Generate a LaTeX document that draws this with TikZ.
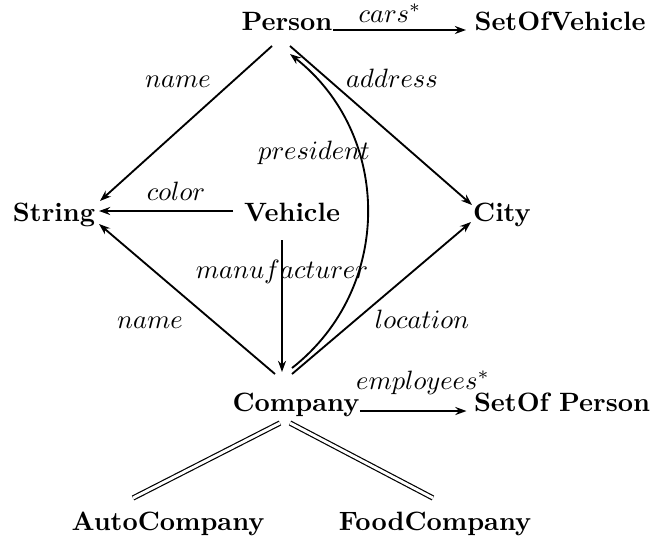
\documentclass[tikz,border=0pt]{standalone}
\usetikzlibrary{arrows.meta,calc}
\begin{document}
\begin{tikzpicture}[x=0.377pt,y=-0.377pt,
  cls/.style={font=\bfseries, inner sep=0pt, anchor=base},
  role/.style={inner sep=0pt, anchor=base},
  link/.style={line width=0.7pt, -{Stealth[length=4.2pt,width=3pt]}},
  isa/.style={double, double distance=1.1pt, line width=0.45pt}]
\useasboundingbox (0,0) rectangle (652,540);

% classes (placed by their baselines)
\node[cls] (person)  at (287,30)  {Person};
\node[cls] (setv)    at (560,30)  {SetOfVehicle};
\node[cls] (string)  at (54,221)  {String};
\node[cls] (vehicle) at (292,221) {Vehicle};
\node[cls] (city)    at (502,221) {City};
\node[cls] (company) at (296,411) {Company};
\node[cls] (setp)    at (562,411) {SetOf Person};
\node[cls] (auto)    at (168,530) {AutoCompany};
\node[cls] (food)    at (435,530) {FoodCompany};

% attribute names
\node[role] (lcars)  at (390,22)  {$cars^*$};
\node[role] (lname)  at (178,87)  {$name$};
\node[role] (laddr)  at (392,87)  {$address$};
\node[role] (lpres)  at (314,159) {$president$};
\node[role] (lcolor) at (176,200) {$color$};
\node[role] (lmanu)  at (282,278) {$manufacturer$};
\node[role] (lname2) at (150,328) {$name$};
\node[role] (lloc)   at (422,328) {$location$};
\node[role] (lemp)   at (423,389) {$employees^*$};

% attributes
\draw[link] (person.base east) -- ($(setv.base west)+(-8,0)$);
\draw[link] ($(person.base)+(-15,16)$) -- ($(string.base)+(46,-20)$);
\draw[link] ($(person.base)+(3,16)$) -- ($(city.base)+(-30,-16)$);
\draw[link] ($(vehicle.base)+(-59,-10)$) -- ($(string.base)+(45,-10)$);
\draw[link] ($(vehicle.base)+(-10,19)$) -- ($(company.base)+(-14,-39)$);
\draw[link] ($(company.base)+(-21,-37)$) -- ($(string.base)+(45,3)$);
\draw[link] ($(company.base)+(-4,-37)$) -- ($(city.base)+(-31,1)$);
\draw[link] ($(company.base)+(-4,-43)$)
  .. controls +(102,-80) and +(102,80) .. ($(person.base)+(3,24)$);
\draw[link] (company.base east) -- ($(setp.base west)+(-7,0)$);

% subclasses
\draw[isa] ($(company.base)+(-16,12)$) -- ($(auto.base)+(-35,-32)$);
\draw[isa] ($(company.base)+(-6,12)$) -- ($(food.base)+(-2,-32)$);
\end{tikzpicture}
\end{document}
